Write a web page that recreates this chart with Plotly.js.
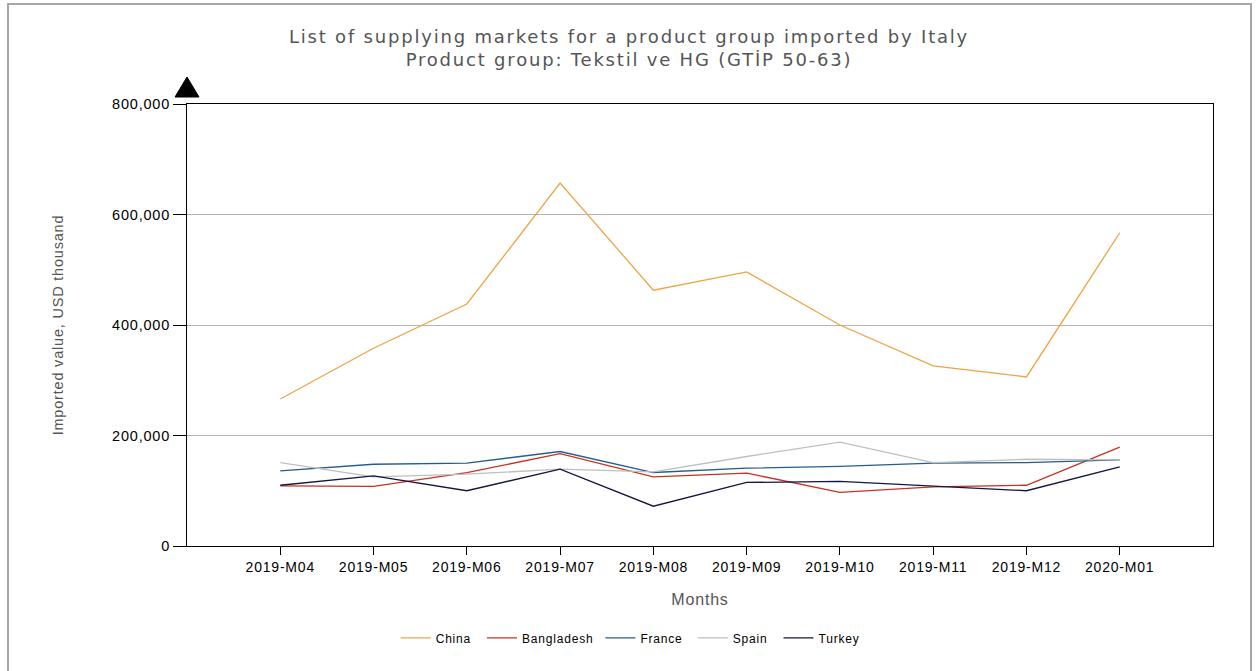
<!DOCTYPE html>
<html><head><meta charset="utf-8">
<script src="https://cdn.plot.ly/plotly-3.0.1.min.js"></script>
<style>
body{margin:0;background:#fff;}
#frame{position:absolute;left:7px;top:3px;width:1245px;height:700px;border:2px solid #a6a6a6;box-sizing:border-box;}
#chart{position:absolute;left:0;top:0;width:1258px;height:671px;}
#chart text{letter-spacing:0.8px;}
#chart .gtitle{letter-spacing:1.8px;}
</style></head>
<body><div id="frame"></div><div id="chart"></div>
<script>
const months = ["2019-M04","2019-M05","2019-M06","2019-M07","2019-M08","2019-M09","2019-M10","2019-M11","2019-M12","2020-M01"];
const china      = [266000,358000,438000,657000,463000,496000,400000,326000,306000,567000];
const bangladesh = [109000,108000,133000,167000,125000,132000,97000,107000,110000,179000];
const france     = [136000,148000,150000,171000,133000,141000,144000,150000,151000,156000];
const spain      = [151000,125000,130000,139000,134000,162000,188000,151000,157000,156000];
const turkey     = [110000,127000,100000,139000,72000,115000,117000,108000,100000,143000];

const names = ["China","Bangladesh","France","Spain","Turkey"];
const colors = ["#EBA544","#C8321E","#245D8C","#BFBFBF","#14173F"];
const series = [china,bangladesh,france,spain,turkey];
const idx = months.map((m,i)=>i);
const pad = '\u00a0\u00a0\u00a0';

const traces = series.map((s,k)=>({
  x: idx, y: s, type:'scatter', mode:'lines', name: names[k] + (k < names.length-1 ? pad : ''),
  line:{color:colors[k], width:1.3}
}));

const layout = {
  width:1258, height:671,
  paper_bgcolor:'rgba(0,0,0,0)', plot_bgcolor:'#fff',
  margin:{l:187, r:45, t:104, b:125},
  font:{family:'"Liberation Sans", Arial, sans-serif', size:13, color:'#000'},
  title:{text:'List of supplying markets for a product group imported by Italy<br>Product group: Tekstil ve HG (GTİP 50-63)',
    font:{family:'"DejaVu Sans", Verdana, sans-serif', size:18, color:'#555'},
    x:0.5, xanchor:'center', y:0.936, yanchor:'top'},
  xaxis:{range:[-1,10], tickvals:idx, ticktext:months, showgrid:false, zeroline:false,
    showline:true, linecolor:'#000', linewidth:1, mirror:true,
    ticks:'outside', ticklen:8, tickcolor:'#000',
    tickfont:{size:14,color:'#000'},
    title:{text:'Months', font:{size:16,color:'#555'}, standoff:20}},
  yaxis:{range:[0,800000], tickvals:[0,200000,400000,600000,800000], tickformat:',d',
    showgrid:true, gridcolor:'#b3b3b3', gridwidth:1, zeroline:false,
    showline:true, linecolor:'#000', linewidth:1, mirror:true,
    ticks:'outside', ticklen:13, tickcolor:'#000',
    tickfont:{size:14.5,color:'#000'},
    title:{text:'Imported value, USD thousand', font:{size:14.5,color:'#555'}, standoff:50}},
  legend:{orientation:'h', x:0.43, xanchor:'center', y:-0.208, yanchor:'middle',
    font:{size:12,color:'#000'}, itemwidth:30, traceorder:'normal'},
  showlegend:true,
  shapes:[{type:'path', xref:'paper', yref:'paper', x0:0, y0:1, xsizemode:'pixel', ysizemode:'pixel', xanchor:0, yanchor:1,
    path:'M-12,7 L12,7 L0,27 Z', fillcolor:'#000', line:{color:'#000', width:1}}]
};
Plotly.newPlot('chart', traces, layout, {displayModeBar:false, staticPlot:true});
</script></body></html>
